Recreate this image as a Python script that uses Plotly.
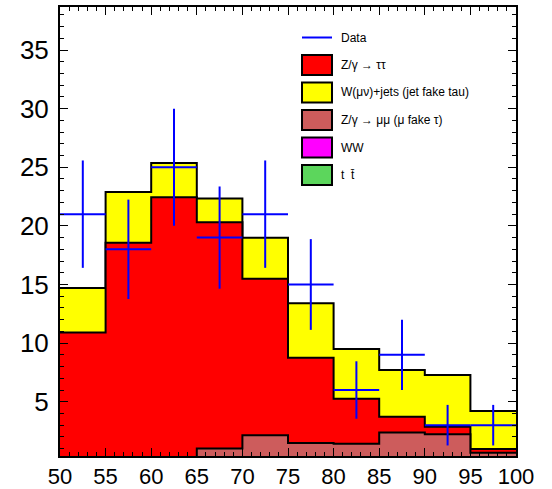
import numpy as np
import plotly.graph_objects as go

# ---- data ----
bin_edges = [50, 55, 60, 65, 70, 75, 80, 85, 90, 95, 100]
bin_centers = [52.5, 57.5, 62.5, 67.5, 72.5, 77.5, 82.5, 87.5, 92.5, 97.5]

ttbar = [0, 0, 0, 0, 0, 0, 0, 0, 0, 0]
ww = [0, 0, 0, 0, 0, 0, 0, 0, 0, 0]
z_mumu = [0, 0, 0, 1.02, 2.15, 1.48, 1.42, 2.38, 2.22, 0.65]
z_tautau = [10.9, 18.55, 22.45, 19.28, 13.35, 7.27, 3.83, 1.34, 0.65, 0.31]
w_jets = [3.8, 4.35, 2.92, 2.03, 3.48, 4.65, 4.24, 3.98, 4.4, 3.24]

data_counts = [21, 18, 25, 19, 21, 15, 6, 9, 3, 3]
data_errors = [4.58, 4.24, 5.0, 4.36, 4.58, 3.87, 2.45, 3.0, 1.73, 1.73]

legend_labels = ["Data", "Z/\u03b3 \u2192 \u03c4\u03c4", "W(\u03bc\u03bd)+jets (jet fake tau)",
                 "Z/\u03b3 \u2192 \u03bc\u03bc (\u03bc fake \u03c4)", "WW", "t  t\u0304"]

x_ticks = [50, 55, 60, 65, 70, 75, 80, 85, 90, 95, 100]
y_ticks = [5, 10, 15, 20, 25, 30, 35]

# ---- styles ----
colors = {"tt": "#5CD65C", "ww": "#FF00FF", "zmm": "#CD5C5C", "ztt": "#FF0000", "w": "#FFFF00"}

stack_order = [("tt", ttbar), ("ww", ww), ("zmm", z_mumu), ("ztt", z_tautau), ("w", w_jets)]
cum = np.cumsum(np.array([s for _, s in stack_order], dtype=float), axis=0)

fig = go.Figure()
# draw cumulative from top to bottom (ROOT THStack style)
for i in reversed(range(len(stack_order))):
    key = stack_order[i][0]
    vals = list(cum[i]) + [cum[i][-1]]
    fig.add_trace(go.Scatter(
        x=bin_edges, y=vals, mode="lines", line=dict(shape="hv", color="black", width=2),
        fill="tozeroy", fillcolor=colors[key], showlegend=False, hoverinfo="skip"))

fig.add_trace(go.Scatter(
    x=bin_centers, y=data_counts, mode="markers",
    marker=dict(size=1, color="rgba(0,0,255,0)"),
    error_y=dict(type="data", array=data_errors, color="#0000FF", thickness=2, width=0),
    error_x=dict(type="constant", value=2.5, color="#0000FF", thickness=2, width=0),
    showlegend=False))

# ---- manual legend (ROOT style) ----
L, R, T, B = 60, 516, 7, 456
def px(x):
    return (x - L) / (R - L)
def py(y):
    return (B - y) / (B - T)

box_x0, box_x1, text_x = 302, 332, 339
fig.add_shape(type="line", xref="paper", yref="paper", x0=px(box_x0), x1=px(box_x1),
              y0=py(37.5), y1=py(37.5), line=dict(color="#0000FF", width=2))
fig.add_annotation(xref="paper", yref="paper", x=px(text_x), y=py(37.5), text=legend_labels[0],
                   showarrow=False, xanchor="left", yanchor="middle",
                   font=dict(family="Liberation Sans, Arial", size=12, color="black"))
leg_keys = ["ztt", "w", "zmm", "ww", "tt"]
row_centers = [65, 92.5, 120, 147.5, 175]
for key, lab, yc in zip(leg_keys, legend_labels[1:], row_centers):
    fig.add_shape(type="rect", xref="paper", yref="paper", x0=px(box_x0), x1=px(box_x1),
                  y0=py(yc + 10), y1=py(yc - 10), fillcolor=colors[key],
                  line=dict(color="black", width=2))
    fig.add_annotation(xref="paper", yref="paper", x=px(text_x), y=py(yc), text=lab,
                       showarrow=False, xanchor="left", yanchor="middle",
                       font=dict(family="Liberation Sans, Arial", size=12, color="black"))

fig.update_layout(
    width=552, height=489, margin=dict(l=L, r=552 - R, t=T, b=489 - B),
    plot_bgcolor="white", paper_bgcolor="white", showlegend=False,
)
fig.update_xaxes(range=[50, 100], tickvals=x_ticks, ticks="inside", ticklen=8, tickwidth=1,
                 tickcolor="black", showline=True, linecolor="black", linewidth=2, mirror="allticks",
                 showgrid=False, zeroline=False, automargin=False,
                 tickfont=dict(family="Liberation Sans, Arial", size=22, color="black"),
                 minor=dict(dtick=1, ticks="inside", ticklen=4, tickcolor="black", showgrid=False))
fig.update_yaxes(range=[0.37, 38.67], tickvals=y_ticks, ticks="inside", ticklen=8, tickwidth=1,
                 tickcolor="black", showline=True, linecolor="black", linewidth=2, mirror="allticks",
                 showgrid=False, zeroline=False, ticklabelstandoff=4, automargin=False,
                 tickfont=dict(family="Liberation Sans, Arial", size=26, color="black"),
                 minor=dict(dtick=1, ticks="inside", ticklen=4, tickcolor="black", showgrid=False))

fig.write_html("out.html", config={"displayModeBar": False},
               post_script="document.body.style.margin='0';")
